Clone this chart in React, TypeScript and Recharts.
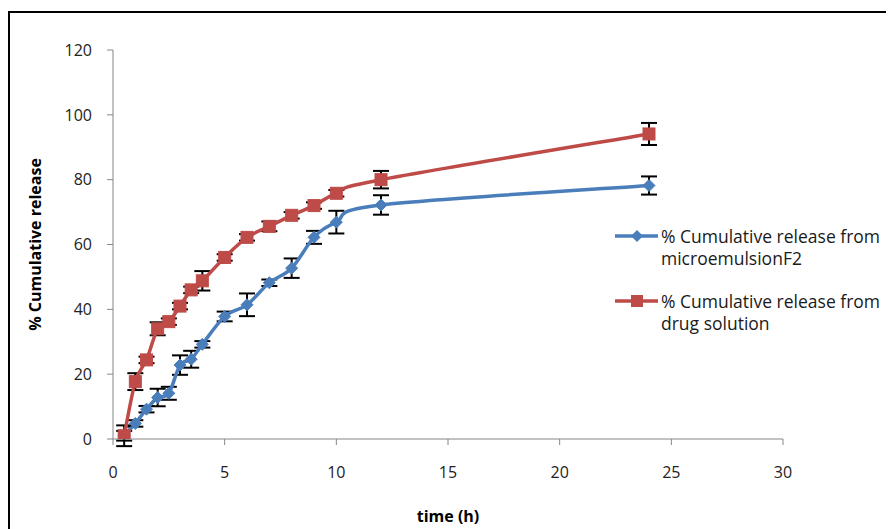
import React from 'react';
import { LineChart, Line, XAxis, YAxis, ErrorBar, Label } from 'recharts';

const times = [0.5, 1, 1.5, 2, 2.5, 3, 3.5, 4, 5, 6, 7, 8, 9, 10, 12, 24];
const microRelease = [1, 4.8, 9.2, 12.8, 14.1, 22.8, 24.6, 29.2, 37.8, 41.4, 48.2, 52.7, 62.2, 66.9, 72.2, 78.2];
const microError = [1.5, 1, 1, 2.7, 2, 3, 2.6, 1, 1.5, 3.5, 1, 3, 2, 3.5, 3, 2.8];
const drugRelease = [1, 17.7, 24.4, 34, 36.2, 41, 46, 48.8, 56, 62.2, 65.6, 69, 72, 75.8, 80, 94.1];
const drugError = [3.2, 2.6, 1, 2, 1, 1, 1, 3, 1, 1, 1.5, 1, 1, 1, 2.7, 3.4];

const xTicks = [0, 5, 10, 15, 20, 25, 30];
const yTicks = [0, 20, 40, 60, 80, 100, 120];

const seriesNames = [
  '% Cumulative release from microemulsionF2',
  '% Cumulative release from drug solution',
];

const BLUE = '#4A7EBB';
const RED = '#BE4B48';
const FONT = '"Open Sans", sans-serif';

const data = times.map((t, i) => ({
  t,
  micro: microRelease[i],
  microErr: microError[i],
  drug: drugRelease[i],
  drugErr: drugError[i],
}));

// Spreadsheet-style smoothed line (Bezier with control points at 1/6 of neighbour chords)
const smoothCurve = (context: any) => {
  let xs: number[] = [];
  let ys: number[] = [];
  return {
    areaStart() {},
    areaEnd() {},
    lineStart() {
      xs = [];
      ys = [];
    },
    point(x: number, y: number) {
      xs.push(+x);
      ys.push(+y);
    },
    lineEnd() {
      const n = xs.length;
      if (!n) return;
      context.moveTo(xs[0], ys[0]);
      for (let i = 0; i < n - 1; i++) {
        const p = i > 0 ? i - 1 : i;
        const q = i + 2 < n ? i + 2 : i + 1;
        const c1x = xs[i] + (xs[i + 1] - xs[p]) / 6;
        const c1y = ys[i] + (ys[i + 1] - ys[p]) / 6;
        const c2x = xs[i + 1] - (xs[q] - xs[i]) / 6;
        const c2y = ys[i + 1] - (ys[q] - ys[i]) / 6;
        context.bezierCurveTo(c1x, c1y, c2x, c2y, xs[i + 1], ys[i + 1]);
      }
    },
  };
};

const Diamond = (props: any) => {
  const { cx, cy } = props;
  if (cx == null || cy == null) return null;
  const r = 6;
  return (
    <path
      d={`M${cx},${cy - r}L${cx + r},${cy}L${cx},${cy + r}L${cx - r},${cy}Z`}
      fill={BLUE}
      stroke={BLUE}
      strokeWidth={1}
    />
  );
};

const Square = (props: any) => {
  const { cx, cy } = props;
  if (cx == null || cy == null) return null;
  const s = 12;
  return <rect x={cx - s / 2} y={cy - s / 2} width={s} height={s} fill={RED} stroke={RED} strokeWidth={1} />;
};

const LegendIcon = ({ color, kind }: { color: string; kind: 'diamond' | 'square' }) => (
  <svg width={45} height={22} style={{ flex: '0 0 auto' }}>
    <line x1={0} y1={11} x2={43} y2={11} stroke={color} strokeWidth={3.5} />
    {kind === 'diamond' ? (
      <path d="M22,5L28,11L22,17L16,11Z" fill={color} />
    ) : (
      <rect x={16} y={5} width={12} height={12} fill={color} />
    )}
  </svg>
);

export default function App() {
  return (
    <div
      style={{
        position: 'relative',
        marginTop: 3,
        width: 878,
        height: 520,
        border: '2px solid #000',
        background: '#fff',
      }}
    >
      <LineChart
        width={878}
        height={520}
        data={data}
        margin={{ top: 37, right: 105, bottom: 4, left: 23 }}
      >
        <XAxis
          dataKey="t"
          type="number"
          domain={[0, 30]}
          ticks={xTicks}
          interval={0}
          height={90}
          stroke="#868686"
          tickSize={6}
          tickMargin={22}
          allowDataOverflow
          tick={{ fill: '#222', fontSize: 16, fontFamily: FONT }}
        >
          <Label
            value="time (h)"
            position="insideBottom"
            offset={7}
            style={{ fontFamily: FONT, fontSize: 16, fontWeight: 700, fill: '#000' }}
          />
        </XAxis>
        <YAxis
          type="number"
          domain={[0, 120]}
          ticks={yTicks}
          interval={0}
          width={80}
          stroke="#868686"
          tickSize={6}
          tickMargin={15}
          allowDataOverflow
          tick={{ fill: '#222', fontSize: 16, fontFamily: FONT }}
        >
          <Label
            value="% Cumulative release"
            position="insideLeft"
            angle={-90}
            offset={2}
            style={{ fontFamily: FONT, fontSize: 16, fontWeight: 700, fill: '#000', textAnchor: 'middle' }}
          />
        </YAxis>
        <Line
          type={smoothCurve as any}
          dataKey="micro"
          name={seriesNames[0]}
          stroke={BLUE}
          strokeWidth={3.5}
          isAnimationActive={false}
          dot={(p: any) => <Diamond key={`m-${p.index}`} {...p} />}
          activeDot={false}
        >
          <ErrorBar dataKey="microErr" direction="y" width={8} strokeWidth={2} stroke="#000" />
        </Line>
        <Line
          type={smoothCurve as any}
          dataKey="drug"
          name={seriesNames[1]}
          stroke={RED}
          strokeWidth={3.5}
          isAnimationActive={false}
          dot={(p: any) => <Square key={`d-${p.index}`} {...p} />}
          activeDot={false}
        >
          <ErrorBar dataKey="drugErr" direction="y" width={8} strokeWidth={2} stroke="#000" />
        </Line>
      </LineChart>
      <div
        style={{
          position: 'absolute',
          left: 605,
          top: 212,
          fontFamily: FONT,
          fontSize: 17.5,
          color: '#1a1a1a',
        }}
      >
        {seriesNames.map((name, i) => (
          <div key={name} style={{ display: 'flex', alignItems: 'flex-start', marginBottom: i === 0 ? 21 : 0 }}>
            <LegendIcon color={i === 0 ? BLUE : RED} kind={i === 0 ? 'diamond' : 'square'} />
            <div style={{ width: 236, lineHeight: '22px', marginLeft: 1 }}>{name}</div>
          </div>
        ))}
      </div>
    </div>
  );
}
